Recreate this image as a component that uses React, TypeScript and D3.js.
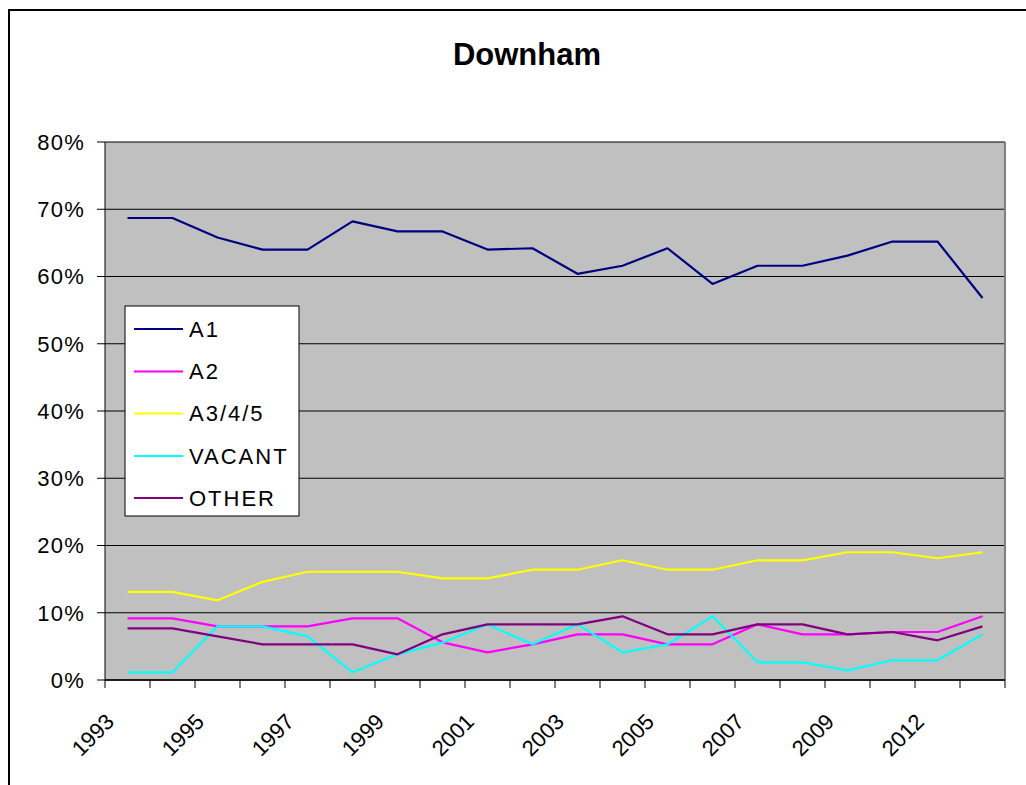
import React from "react";
import * as d3 from "d3";

const years = ["1993","1994","1995","1996","1997","1998","1999","2000","2001","2002","2003","2004","2005","2006","2007","2008","2009","2011","2012","2013"];
const a1 = [68.7,68.7,65.8,64.0,64.0,68.2,66.7,66.7,64.0,64.2,60.4,61.6,64.2,58.9,61.6,61.6,63.1,65.2,65.2,56.8];
const a2 = [9.17,9.17,7.98,7.98,7.98,9.17,9.17,5.6,4.11,5.3,6.79,6.79,5.3,5.3,8.28,6.79,6.79,7.14,7.14,9.47];
const a345 = [13.1,13.1,11.85,14.6,16.1,16.1,16.1,15.1,15.1,16.4,16.4,17.8,16.4,16.4,17.8,17.8,19.0,19.0,18.1,19.0];
const vacant = [1.14,1.14,7.98,7.98,6.49,1.14,3.82,5.55,8.28,5.3,8.28,4.11,5.3,9.47,2.63,2.63,1.44,2.93,2.93,6.79];
const other = [7.68,7.68,6.49,5.3,5.3,5.3,3.82,6.79,8.28,8.28,8.28,9.47,6.79,6.79,8.28,8.28,6.79,7.14,5.9,7.98];
const yTicks = [0,10,20,30,40,50,60,70,80];
const xLabels = ["1993","1995","1997","1999","2001","2003","2005","2007","2009","2012"];
const seriesNames = ["A1","A2","A3/4/5","VACANT","OTHER"];
const seriesColors = ["#000080","#FF00FF","#FFFF00","#00FFFF","#800080"];
const seriesData = [a1, a2, a345, vacant, other];

export default function App() {
  const left = 105, right = 1005, top = 142, bottom = 680;
  const x = d3.scaleBand<string>().domain(years).range([left, right]).padding(0);
  const y = d3.scaleLinear().domain([0, 80]).range([bottom, top]);
  const cxOf = (yr: string) => (x(yr) as number) + x.bandwidth() / 2;
  const line = d3.line<number>().x((_, i) => cxOf(years[i])).y((v) => y(v));
  const font = "'Liberation Sans', Arial, sans-serif";
  const boundaries = years.map((yr) => x(yr) as number).concat([right]);
  const legendRows = [329, 371.5, 413.5, 456, 498];

  return (
    <svg width={1026} height={785} style={{ position: "absolute", left: 0, top: 0 }} fontFamily={font}>
      <rect x={0} y={0} width={1026} height={785} fill="#fff" />
      <rect x={9} y={10} width={1100} height={900} fill="#fff" stroke="#000" strokeWidth={2} />
      <text x={527} y={65} textAnchor="middle" fontSize={31} fontWeight="bold">Downham</text>
      <rect x={left} y={top} width={right - left} height={bottom - top} fill="#C0C0C0" />
      {yTicks.map((t) => (
        <g key={t}>
          <line x1={left} x2={right} y1={y(t)} y2={y(t)} stroke="#000" strokeWidth={1} />
          <line x1={97} x2={left} y1={y(t)} y2={y(t)} stroke="#000" strokeWidth={1} />
          <text x={85} y={y(t)} dy="0.36em" textAnchor="end" fontSize={22} letterSpacing={1.2}>{t}%</text>
        </g>
      ))}
      <line x1={right} x2={right} y1={top} y2={bottom} stroke="#808080" strokeWidth={2} />
      <line x1={left} x2={left} y1={top} y2={bottom} stroke="#000" strokeWidth={1} />
      <line x1={left} x2={right} y1={bottom} y2={bottom} stroke="#000" strokeWidth={1.5} />
      {boundaries.map((b, i) => (
        <line key={i} x1={b} x2={b} y1={bottom} y2={bottom + 8} stroke="#000" strokeWidth={1} />
      ))}
      {xLabels.map((yr) => (
        <text key={yr} transform={`translate(${cxOf(yr) - 12},${723}) rotate(-45)`} textAnchor="end" fontSize={22}>{yr}</text>
      ))}
      {seriesData.map((d, k) => (
        <path key={k} d={line(d) as string} fill="none" stroke={seriesColors[k]} strokeWidth={2.2} strokeLinejoin="round" />
      ))}
      <rect x={125} y={306} width={174} height={210} fill="#fff" stroke="#000" strokeWidth={1} />
      {seriesNames.map((n, k) => (
        <g key={n}>
          <line x1={134} x2={183} y1={legendRows[k]} y2={legendRows[k]} stroke={seriesColors[k]} strokeWidth={2} />
          <text x={189} y={legendRows[k]} dy="0.36em" fontSize={22} letterSpacing={2}>{n}</text>
        </g>
      ))}
    </svg>
  );
}
